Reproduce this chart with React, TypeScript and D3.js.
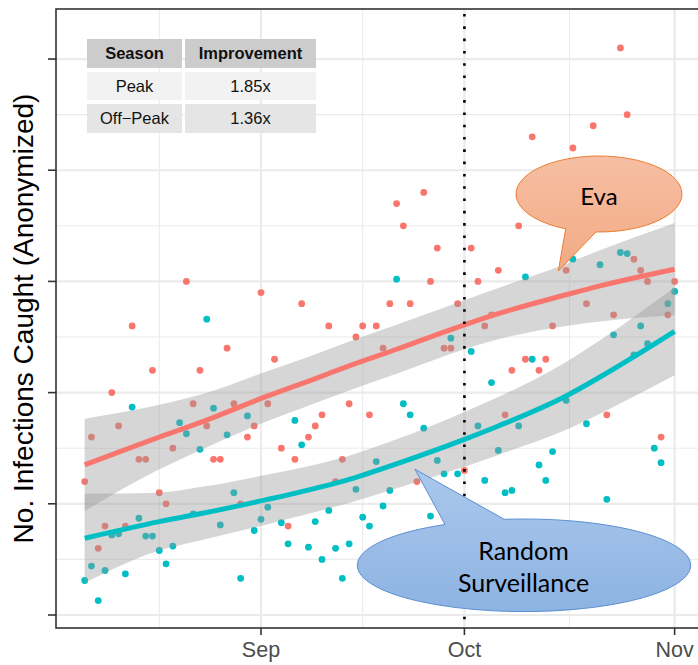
import React from "react";
import * as d3 from "d3";

const W = 698;
const H = 665;
const DAY = 86400000;
const START = Date.UTC(2016, 7, 6); // first observation day

// Daily counts, indexed by days since START
const evaDay = [0, 1, 2, 3, 4, 5, 6, 7, 8, 9, 10, 11, 12, 13, 15, 16, 17, 18, 19, 20, 21, 22, 23, 24, 25, 26, 27, 28, 29, 30, 31, 32, 33, 34, 35, 36, 37, 38, 39, 40, 41, 42, 43, 44, 45, 46, 47, 48, 49, 50, 51, 52, 53, 54, 55, 56, 57, 58, 59, 60, 61, 62, 63, 64, 65, 66, 67, 68, 69, 71, 72, 74, 75, 77, 78, 79, 80, 81, 82, 83, 85, 86, 87];
const evaCount = [12, 16, 6, 8, 20, 17, 8, 26, 14, 14, 22, 11, 10, 15, 30, 19, 22, 17, 14, 14, 24, 19, 10, 16, 17, 29, 19, 23, 15, 8, 14, 28, 16, 17, 18, 26, 12, 14, 19, 25, 26, 18, 26, 24, 28, 37, 35, 28, 12, 38, 30, 33, 24, 24, 28, 13, 33, 30, 26, 27, 31, 18, 22, 35, 23, 43, 22, 23, 26, 31, 42, 28, 44, 18, 27, 51, 45, 32, 31, 30, 16, 27, 30];

const rsDay = [0, 1, 2, 3, 4, 5, 6, 7, 8, 9, 10, 11, 12, 13, 14, 15, 16, 17, 18, 19, 20, 21, 22, 23, 24, 25, 26, 27, 29, 30, 31, 32, 33, 34, 35, 36, 37, 38, 39, 40, 41, 42, 43, 44, 45, 46, 47, 48, 50, 51, 52, 53, 54, 55, 57, 58, 59, 60, 61, 62, 63, 64, 65, 66, 67, 68, 69, 71, 72, 74, 76, 77, 78, 79, 80, 81, 82, 83, 84, 85, 86, 87];
const rsCount = [3.1, 4.4, 1.3, 4.0, 7.2, 7.3, 3.7, 18.7, 8.7, 7.1, 7.1, 5.8, 4.6, 6.2, 17.3, 16.3, 9.1, 14.9, 26.6, 18.6, 8.1, 16.2, 11.0, 3.3, 17.9, 7.6, 8.6, 9.7, 8.3, 6.4, 17.5, 15.3, 6.1, 8.4, 5.0, 9.4, 6.0, 3.3, 6.4, 11.3, 8.8, 8.0, 13.8, 9.8, 11.2, 30.2, 19.0, 18.0, 16.8, 8.9, 13.9, 12.7, 24.9, 12.7, 23.7, 17.0, 12.1, 20.9, 14.8, 11.0, 11.2, 17.0, 30.4, 23.0, 13.5, 12.1, 14.7, 19.3, 32.0, 17.2, 31.5, 10.4, 25.2, 32.6, 32.5, 23.4, 26.0, 24.4, 15.0, 13.7, 28.0, 29.1];

// Smoothed trends with confidence bands
const fitDay = [0, 11, 17, 27, 32, 39, 46, 56, 61, 71, 76, 87];
const evaFit = [13.5, 16.0, 17.3, 19.7, 20.8, 22.4, 23.9, 26.1, 27.1, 28.8, 29.6, 31.1];
const evaLo = [9.35, 13.1, 14.8, 17.45, 18.6, 20.2, 21.7, 23.9, 24.8, 26.0, 26.4, 26.95];
const evaHi = [17.65, 18.9, 19.8, 21.95, 23.0, 24.6, 26.1, 28.3, 29.4, 31.6, 32.8, 35.25];
const rsFit = [6.9, 8.4, 9.1, 10.4, 11.1, 12.2, 13.6, 15.8, 17.0, 19.7, 21.4, 25.5];
const rsLo = [2.9, 5.8, 6.7, 8.17, 8.95, 10.07, 11.4, 13.34, 14.4, 16.65, 18.1, 21.55];
const rsHi = [10.9, 11.0, 11.5, 12.63, 13.25, 14.33, 15.8, 18.26, 19.6, 22.75, 24.7, 29.45];

const monthTicks = ["2016-09-01", "2016-10-01", "2016-11-01"];
const monthLabels = ["Sep", "Oct", "Nov"];
const minorDates = ["2016-08-17", "2016-09-16", "2016-10-16T12:00:00Z"];
const yMajor = [0, 10, 20, 30, 40, 50];
const yMinor = [5, 15, 25, 35, 45];
const markerDate = "2016-10-01";

const tableHeader = ["Season", "Improvement"];
const tableSeason = ["Peak", "Off\u2212Peak"];
const tableImprovement = ["1.85x", "1.36x"];

const EVA = "#F8766D";
const RS = "#00BFC4";
const FONT = "'Liberation Sans', Arial, Helvetica, sans-serif";
const CALLOUT_FONT = "Lato, 'Open Sans', sans-serif";

const panel = { left: 56, right: 703.3, top: 9, bottom: 628 };

const x = d3
  .scaleUtc()
  .domain([new Date(START - 4.23 * DAY), new Date(START + 91.23 * DAY)])
  .range([panel.left, panel.right]);
const y = d3.scaleLinear().domain([-1.17, 54.5]).range([panel.bottom, panel.top]);
const dayX = (d: number) => x(new Date(START + d * DAY));

type Band = { d: number; fit: number; lo: number; hi: number };
const bandRows = (fit: number[], lo: number[], hi: number[]): Band[] =>
  fitDay.map((d, i) => ({ d, fit: fit[i], lo: lo[i], hi: hi[i] }));

const area = d3
  .area<Band>()
  .x((b) => dayX(b.d))
  .y0((b) => y(b.lo))
  .y1((b) => y(b.hi))
  .curve(d3.curveMonotoneX);
const line = d3
  .line<Band>()
  .x((b) => dayX(b.d))
  .y((b) => y(b.fit))
  .curve(d3.curveMonotoneX);

// Speech bubble: ellipse with a pointed tail whose base sits on the outline
function bubblePath(
  cx: number,
  cy: number,
  rx: number,
  ry: number,
  baseA: number,
  baseB: number,
  side: 1 | -1,
  tip: [number, number],
  sweep: 0 | 1
) {
  const onEllipse = (px: number) => {
    const t = (px - cx) / rx;
    return cy + side * ry * Math.sqrt(Math.max(0, 1 - t * t));
  };
  const ay = onEllipse(baseA);
  const by = onEllipse(baseB);
  return `M${baseA},${ay} A${rx},${ry} 0 1 ${sweep} ${baseB},${by} L${tip[0]},${tip[1]} Z`;
}

export default function App() {
  const evaBand = bandRows(evaFit, evaLo, evaHi);
  const rsBand = bandRows(rsFit, rsLo, rsHi);
  const markerX = x(new Date(markerDate));

  const colEdges = [
    [87, 182],
    [185, 316],
  ];
  const rowEdges = [
    [39, 68],
    [72, 100],
    [104, 133],
  ];
  const rowFill = ["#cccccc", "#f2f2f2", "#e5e5e5"];
  const tableRows = [tableHeader, [tableSeason[0], tableImprovement[0]], [tableSeason[1], tableImprovement[1]]];

  return (
    <svg
      width={W}
      height={H}
      style={{ position: "absolute", left: 0, top: 0, background: "#ffffff" }}
      fontFamily={FONT}
    >
      <defs>
        <clipPath id="panel-clip">
          <rect x={panel.left} y={panel.top} width={panel.right - panel.left} height={panel.bottom - panel.top} />
        </clipPath>
        <linearGradient id="eva-fill" x1="0" y1="0" x2="0" y2="1">
          <stop offset="0" stopColor="#f6bea3" />
          <stop offset="1" stopColor="#f2ab84" />
        </linearGradient>
        <linearGradient id="rs-fill" x1="0" y1="0" x2="0" y2="1">
          <stop offset="0" stopColor="#aac8ec" />
          <stop offset="1" stopColor="#8db3e2" />
        </linearGradient>
      </defs>

      {/* grid */}
      <g>
        {yMinor.map((v) => (
          <line key={"ym" + v} x1={panel.left} x2={panel.right} y1={y(v)} y2={y(v)} stroke="#ebebeb" strokeWidth={1.1} />
        ))}
        {minorDates.map((d) => (
          <line key={"xm" + d} x1={x(new Date(d))} x2={x(new Date(d))} y1={panel.top} y2={panel.bottom} stroke="#ebebeb" strokeWidth={1.1} />
        ))}
        {yMajor.map((v) => (
          <line key={"yM" + v} x1={panel.left} x2={panel.right} y1={y(v)} y2={y(v)} stroke="#ebebeb" strokeWidth={2.2} />
        ))}
        {monthTicks.map((d) => (
          <line key={"xM" + d} x1={x(new Date(d))} x2={x(new Date(d))} y1={panel.top} y2={panel.bottom} stroke="#ebebeb" strokeWidth={2.2} />
        ))}
      </g>

      <g clipPath="url(#panel-clip)">
        {evaDay.map((d, i) => (
          <circle key={"e" + i} cx={dayX(d)} cy={y(evaCount[i])} r={3.4} fill={EVA} />
        ))}
        {rsDay.map((d, i) => (
          <circle key={"r" + i} cx={dayX(d)} cy={y(rsCount[i])} r={3.4} fill={RS} />
        ))}
        <path d={area(evaBand) || ""} fill="#999999" fillOpacity={0.4} />
        <path d={area(rsBand) || ""} fill="#999999" fillOpacity={0.4} />
        <path d={line(evaBand) || ""} fill="none" stroke={EVA} strokeWidth={5} />
        <path d={line(rsBand) || ""} fill="none" stroke={RS} strokeWidth={5} />
        <line
          x1={markerX}
          x2={markerX}
          y1={panel.top}
          y2={panel.bottom}
          stroke="#000000"
          strokeWidth={2.6}
          strokeDasharray="2.6 9.7"
          strokeDashoffset={-5}
        />
      </g>

      {/* panel border */}
      <rect
        x={panel.left}
        y={panel.top}
        width={panel.right - panel.left}
        height={panel.bottom - panel.top}
        fill="none"
        stroke="#333333"
        strokeWidth={1.6}
      />

      {/* axes */}
      {yMajor.map((v) => (
        <line key={"yt" + v} x1={panel.left - 8} x2={panel.left} y1={y(v)} y2={y(v)} stroke="#333333" strokeWidth={1.6} />
      ))}
      {monthTicks.map((d, i) => (
        <g key={"xt" + d}>
          <line x1={x(new Date(d))} x2={x(new Date(d))} y1={panel.bottom} y2={panel.bottom + 7} stroke="#333333" strokeWidth={1.6} />
          <text x={x(new Date(d))} y={656.5} textAnchor="middle" fontSize={21.5} fill="#4d4d4d">
            {monthLabels[i]}
          </text>
        </g>
      ))}
      <text transform={`translate(33, ${(panel.top + panel.bottom) / 2}) rotate(-90)`} textAnchor="middle" fontSize={28} fill="#000000">
        No. Infections Caught (Anonymized)
      </text>

      {/* summary table */}
      <g>
        {tableRows.map((row, r) =>
          row.map((cell, c) => (
            <g key={`c${r}-${c}`}>
              <rect
                x={colEdges[c][0]}
                y={rowEdges[r][0]}
                width={colEdges[c][1] - colEdges[c][0]}
                height={rowEdges[r][1] - rowEdges[r][0]}
                fill={rowFill[r]}
              />
              <text
                x={(colEdges[c][0] + colEdges[c][1]) / 2}
                y={(rowEdges[r][0] + rowEdges[r][1]) / 2 + 5.8}
                textAnchor="middle"
                fontSize={16.5}
                fontWeight={r === 0 ? "bold" : "normal"}
                fill="#111111"
              >
                {cell}
              </text>
            </g>
          ))
        )}
      </g>

      {/* callouts */}
      <path
        d={bubblePath(599, 194, 83, 38, 565.7, 596, 1, [558.3, 271], 1)}
        fill="url(#eva-fill)"
        stroke="#ED7D31"
        strokeWidth={1}
      />
      <text x={599} y={205} textAnchor="middle" fontSize={24} fontFamily={CALLOUT_FONT} fill="#000000">
        Eva
      </text>
      <path
        d={bubblePath(524, 565.3, 166.7, 46.3, 445, 504.3, -1, [415, 469.3], 0)}
        fill="url(#rs-fill)"
        stroke="#5B8FD0"
        strokeWidth={1}
      />
      <text x={523.5} y={560} textAnchor="middle" fontSize={25} fontFamily={CALLOUT_FONT} fill="#000000">
        Random
      </text>
      <text x={523.5} y={591.7} textAnchor="middle" fontSize={25} fontFamily={CALLOUT_FONT} fill="#000000">
        Surveillance
      </text>
    </svg>
  );
}
